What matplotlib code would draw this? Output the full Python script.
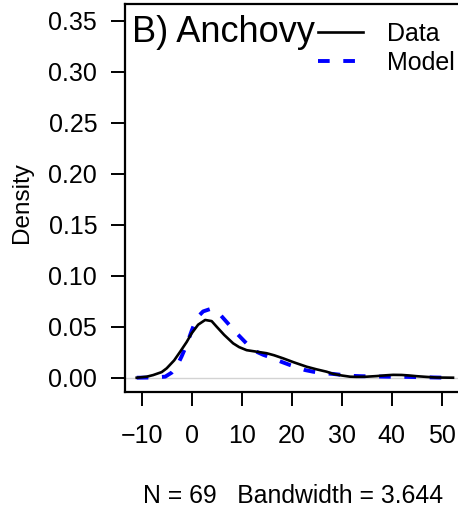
import matplotlib
matplotlib.use("Agg")
import matplotlib.pyplot as plt

plt.rcParams['font.family'] = ['Liberation Sans', 'DejaVu Sans']

# density curves
data_x = [-11, -9, -7.7, -6, -5, -3.5, -2.3, -1, 0, 1.3, 2.7, 4, 5, 6.5, 8.3, 9.5, 11, 13, 15, 16.5,
          18.3, 20.5, 23, 25, 27, 28.3, 30, 31.7, 33, 35, 37, 39, 40.3, 42, 43.5, 45, 47, 49, 52.3]
data_y = [0.0, 0.001, 0.0026, 0.0055, 0.0092, 0.017, 0.0255, 0.035, 0.0435, 0.052, 0.0566, 0.0555,
          0.050, 0.042, 0.0337, 0.030, 0.027, 0.0255, 0.024, 0.022, 0.019, 0.015, 0.0108, 0.0082,
          0.0059, 0.0038, 0.0022, 0.001, 0.0008, 0.001, 0.0016, 0.0024, 0.0028, 0.0027, 0.0022,
          0.0015, 0.0008, 0.0002, 0.0]

model_x = [-11, -8, -5.3, -4, -3, -2, -1, 0, 1, 2.3, 3.7, 4.8, 5.7, 7.3, 9, 10.7, 12.3, 14.3, 16.3,
           18, 19.7, 22.7, 24.3, 26.3, 28.3, 30.5, 32.3, 34, 37, 40.3, 43, 45, 48, 51, 52.3]
model_y = [0.0, 0.0002, 0.001, 0.005, 0.0108, 0.021, 0.0324, 0.046, 0.0585, 0.065, 0.0673, 0.065,
           0.0618, 0.053, 0.0436, 0.035, 0.027, 0.0225, 0.019, 0.0155, 0.0124, 0.0075, 0.0059,
           0.0045, 0.0037, 0.0025, 0.0018, 0.0015, 0.0012, 0.0009, 0.0008, 0.0006, 0.0003, 0.0,
           0.0]

x_ticks = [-10, 0, 10, 20, 30, 40, 50]
y_ticks = [0.00, 0.05, 0.10, 0.15, 0.20, 0.25, 0.30, 0.35]

fig = plt.figure(figsize=(4.58, 5.15), dpi=100)
ax = fig.add_axes([125/458, 1 - 392/515, 1 - 125/458, (392 - 4)/515])

ax.axhline(0, color='#d3d3d3', lw=1, zorder=1)
ax.plot(data_x, data_y, color='black', lw=1.9, label='Data', zorder=3)
ax.plot(model_x, model_y, color='blue', lw=2.8, dashes=(3, 3.5), label='Model', zorder=2)

ax.set_xlim(-13.34, 53.3)
ax.set_ylim(-0.014, 0.3663)
ax.set_xticks(x_ticks)
ax.set_xticklabels(['\u221210' if v < 0 else str(v) for v in x_ticks])
ax.set_yticks(y_ticks)
ax.set_yticklabels(['%.2f' % v for v in y_ticks])

ax.spines['right'].set_visible(False)
for s in ['left', 'top', 'bottom']:
    ax.spines[s].set_linewidth(1.6)
ax.tick_params(axis='both', direction='out', length=10, width=1.4, labelsize=18)
ax.tick_params(axis='x', pad=13)
ax.tick_params(axis='y', pad=10)

fig.text(132/458, 1 - 42/515, 'B) Anchovy', fontsize=26, va='baseline', ha='left')
fig.text(22/458, 1 - 203/515, 'Density', fontsize=17.5, rotation=90, va='center', ha='center')
fig.text(293/458, 1 - 496/515, 'N = 69   Bandwidth = 3.644', fontsize=17.8, va='center', ha='center')

ax.legend(loc='upper left', bbox_to_anchor=(318/458, 1 - 22/515), bbox_transform=fig.transFigure,
          frameon=False, fontsize=18, handlelength=1.8, handletextpad=0.95, labelspacing=0.2,
          borderpad=0, borderaxespad=0)

fig.savefig('out.png', dpi=100)
